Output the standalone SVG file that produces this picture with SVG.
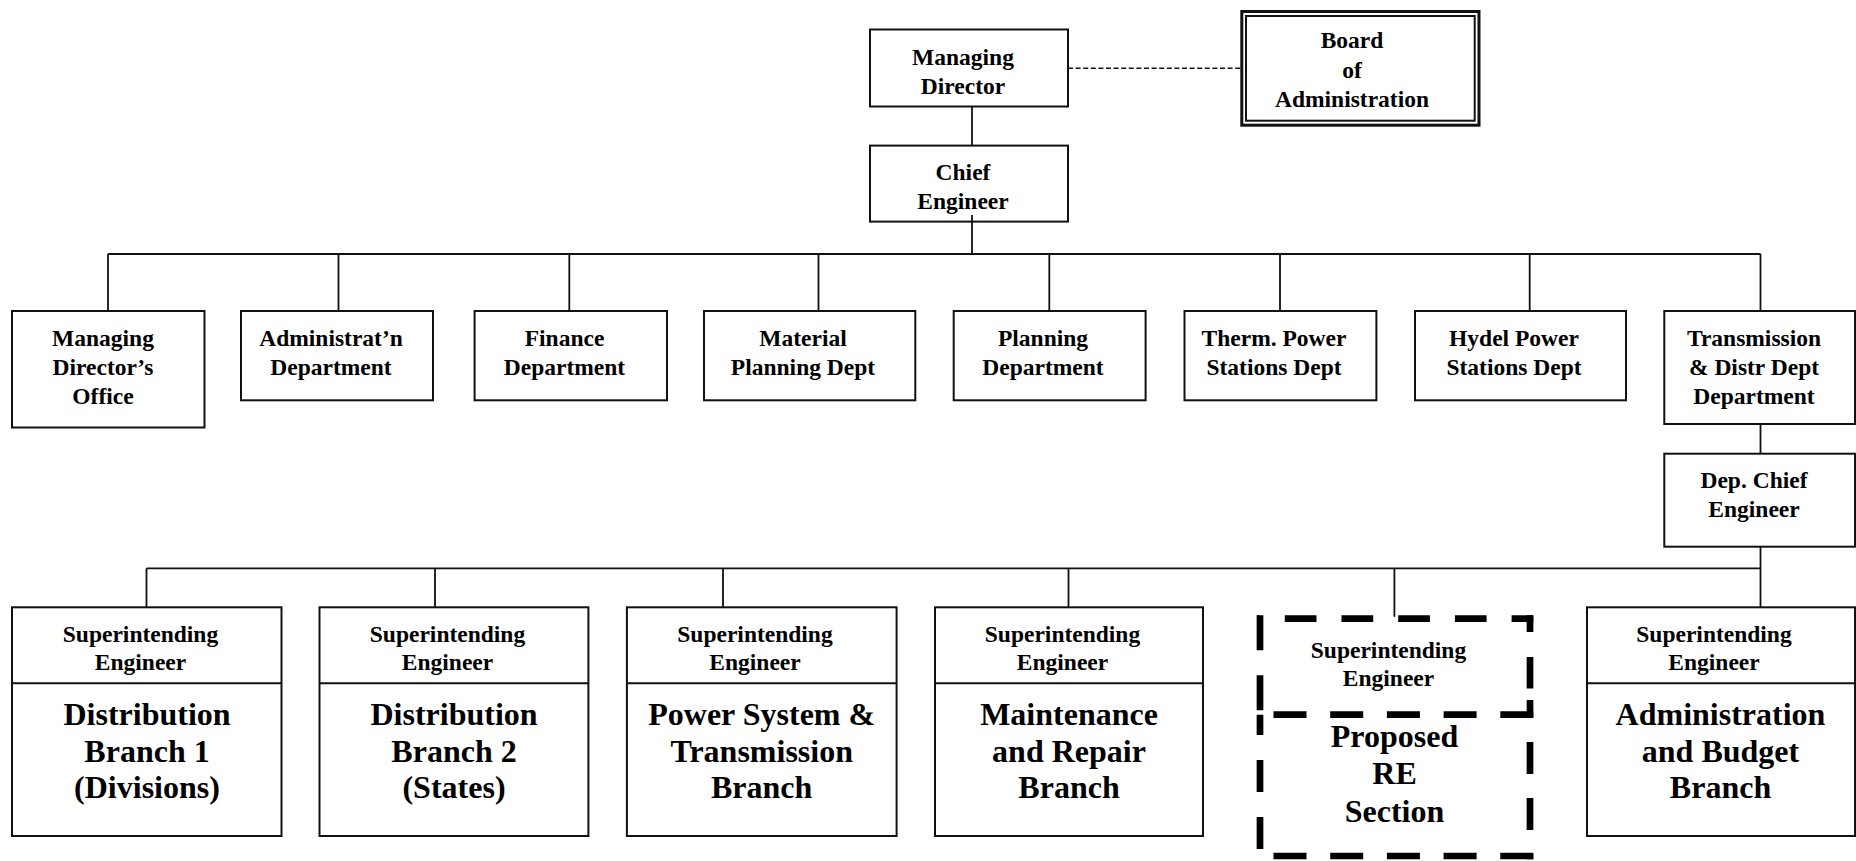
<svg xmlns="http://www.w3.org/2000/svg" width="1856" height="861" viewBox="0 0 1856 861">
  <style>
    .box { fill: #fff; stroke: #111; stroke-width: 2; }
    .div { stroke: #111; stroke-width: 2; fill: none; }
    .conn { stroke: #111; stroke-width: 1.8; fill: none; }
    .dash { stroke: #111; stroke-width: 1.6; fill: none; stroke-dasharray: 5 2.6; }
    .prop { stroke: #000; stroke-width: 6.7; fill: none; stroke-linecap: butt; }
    text { font-family: "Liberation Serif", "Times New Roman", serif; font-weight: bold; fill: #000; text-anchor: middle; }
    .s { font-size: 23.5px; }
    .l { font-size: 32px; }
  </style>

  <!-- connectors -->
  <g id="connectors">
    <path class="dash" d="M1068,68.3 H1240.5"/>
    <path class="conn" d="M972,106.5 V145.6"/>
    <path class="conn" d="M972,215 V254"/>
    <path class="conn" d="M108,254 H1760.5"/>
    <path class="conn" d="M108,254 V311 M338.5,254 V311 M569.3,254 V311 M818.5,254 V311 M1049.3,254 V311 M1280,254 V311 M1529.7,254 V311 M1760.5,254 V311"/>
    <path class="conn" d="M1760.5,424 V453.7"/>
    <path class="conn" d="M1760.5,546.7 V568.3"/>
    <path class="conn" d="M146.5,568.3 H1760.5"/>
    <path class="conn" d="M146.5,568.3 V607.3 M435,568.3 V607.3 M723,568.3 V607.3 M1068.5,568.3 V607.3 M1394.4,568.3 V616.7 M1760.5,568.3 V607.3"/>
  </g>

  <!-- top management -->
  <g id="managing-director">
    <rect class="box" x="870" y="29.5" width="198" height="77"/>
    <text class="s" x="963" y="65">Managing</text>
    <text class="s" x="963" y="94">Director</text>
  </g>

  <g id="board">
    <rect x="1241.8" y="11.5" width="237.2" height="113.7" fill="#fff" stroke="#111" stroke-width="3"/>
    <rect x="1246" y="16" width="228.7" height="104.7" fill="none" stroke="#111" stroke-width="2"/>
    <text class="s" x="1352" y="48">Board</text>
    <text class="s" x="1352" y="78">of</text>
    <text class="s" x="1352" y="106.5">Administration</text>
  </g>

  <g id="chief-engineer">
    <rect class="box" x="870" y="145.6" width="198" height="76"/>
    <text class="s" x="963" y="180">Chief</text>
    <text class="s" x="963" y="209">Engineer</text>
  </g>
  <path class="conn" d="M972,215 V221.6"/>

  <!-- departments -->
  <g id="md-office">
    <rect class="box" x="12" y="311" width="192.5" height="116.5"/>
    <text class="s" x="103" y="346">Managing</text>
    <text class="s" x="103" y="375">Director’s</text>
    <text class="s" x="103" y="403.5">Office</text>
  </g>
  <g id="admin-dept">
    <rect class="box" x="241" y="311" width="192" height="89.3"/>
    <text class="s" x="331" y="346">Administrat’n</text>
    <text class="s" x="331" y="375">Department</text>
  </g>
  <g id="finance-dept">
    <rect class="box" x="474.6" y="311" width="192.4" height="89.3"/>
    <text class="s" x="564.5" y="346">Finance</text>
    <text class="s" x="564.5" y="375">Department</text>
  </g>
  <g id="material-dept">
    <rect class="box" x="704" y="311" width="211.3" height="89.3"/>
    <text class="s" x="803" y="346">Material</text>
    <text class="s" x="803" y="375">Planning Dept</text>
  </g>
  <g id="planning-dept">
    <rect class="box" x="953.7" y="311" width="191.9" height="89.3"/>
    <text class="s" x="1043" y="346">Planning</text>
    <text class="s" x="1043" y="375">Department</text>
  </g>
  <g id="thermal-dept">
    <rect class="box" x="1184.5" y="311" width="191.9" height="89.3"/>
    <text class="s" x="1274" y="346">Therm. Power</text>
    <text class="s" x="1274" y="375">Stations Dept</text>
  </g>
  <g id="hydel-dept">
    <rect class="box" x="1415" y="311" width="211" height="89.3"/>
    <text class="s" x="1514" y="346">Hydel Power</text>
    <text class="s" x="1514" y="375">Stations Dept</text>
  </g>
  <g id="td-dept">
    <rect class="box" x="1664.3" y="311" width="190.7" height="113"/>
    <text class="s" x="1754" y="346">Transmission</text>
    <text class="s" x="1754" y="375">&amp; Distr Dept</text>
    <text class="s" x="1754" y="403.5">Department</text>
  </g>
  <g id="dep-chief">
    <rect class="box" x="1664.3" y="453.7" width="190.7" height="93"/>
    <text class="s" x="1754" y="488">Dep. Chief</text>
    <text class="s" x="1754" y="517">Engineer</text>
  </g>

  <!-- branches -->
  <g id="dist-branch-1">
    <rect class="box" x="12" y="607.3" width="269.5" height="228.7"/>
    <path class="div" d="M12,683.3 H281.5"/>
    <text class="s" x="140.5" y="641.7">Superintending</text>
    <text class="s" x="140.5" y="670">Engineer</text>
    <text class="l" x="147" y="725">Distribution</text>
    <text class="l" x="147" y="761.7">Branch 1</text>
    <text class="l" x="147" y="798.3">(Divisions)</text>
  </g>
  <g id="dist-branch-2">
    <rect class="box" x="319.5" y="607.3" width="268.9" height="228.7"/>
    <path class="div" d="M319.5,683.3 H588.4"/>
    <text class="s" x="447.5" y="641.7">Superintending</text>
    <text class="s" x="447.5" y="670">Engineer</text>
    <text class="l" x="454" y="725">Distribution</text>
    <text class="l" x="454" y="761.7">Branch 2</text>
    <text class="l" x="454" y="798.3">(States)</text>
  </g>
  <g id="power-system-branch">
    <rect class="box" x="626.9" y="607.3" width="269.7" height="228.7"/>
    <path class="div" d="M626.9,683.3 H896.6"/>
    <text class="s" x="755" y="641.7">Superintending</text>
    <text class="s" x="755" y="670">Engineer</text>
    <text class="l" x="761.7" y="725">Power System &amp;</text>
    <text class="l" x="761.7" y="761.7">Transmission</text>
    <text class="l" x="761.7" y="798.3">Branch</text>
  </g>
  <g id="maintenance-branch">
    <rect class="box" x="935" y="607.3" width="268" height="228.7"/>
    <path class="div" d="M935,683.3 H1203"/>
    <text class="s" x="1062.5" y="641.7">Superintending</text>
    <text class="s" x="1062.5" y="670">Engineer</text>
    <text class="l" x="1069" y="725">Maintenance</text>
    <text class="l" x="1069" y="761.7">and Repair</text>
    <text class="l" x="1069" y="798.3">Branch</text>
  </g>

  <!-- proposed section, heavy dashed outline -->
  <g id="proposed-re-section">
    <path class="prop" d="M1533.3,618.7 H1257" stroke-dasharray="31.7 25" stroke-dashoffset="10"/>
    <path class="prop" d="M1260,615.3 V714.7" stroke-dasharray="35 25"/>
    <path class="prop" d="M1260,714.7 V859.3" stroke-dasharray="32 25" stroke-dashoffset="11.7"/>
    <path class="prop" d="M1533.3,714.7 H1257" stroke-dasharray="33 23.7"/>
    <path class="prop" d="M1533.3,856 H1257" stroke-dasharray="33 23.7"/>
    <path class="prop" d="M1530,615.3 V718" stroke-dasharray="16.7 25 31.6 11.3 30"/>
    <path class="prop" d="M1530,718 V859.3" stroke-dasharray="32 24" stroke-dashoffset="32"/>
    <text class="s" x="1388.5" y="658.3">Superintending</text>
    <text class="s" x="1388.5" y="686.3">Engineer</text>
    <text class="l" x="1394.5" y="746.7">Proposed</text>
    <text class="l" x="1394.5" y="784.3">RE</text>
    <text class="l" x="1394.5" y="821.7">Section</text>
  </g>

  <g id="admin-budget-branch">
    <rect class="box" x="1587" y="607.3" width="268" height="228.7"/>
    <path class="div" d="M1587,683.3 H1855"/>
    <text class="s" x="1714" y="641.7">Superintending</text>
    <text class="s" x="1714" y="670">Engineer</text>
    <text class="l" x="1720.5" y="725">Administration</text>
    <text class="l" x="1720.5" y="761.7">and Budget</text>
    <text class="l" x="1720.5" y="798.3">Branch</text>
  </g>
</svg>
